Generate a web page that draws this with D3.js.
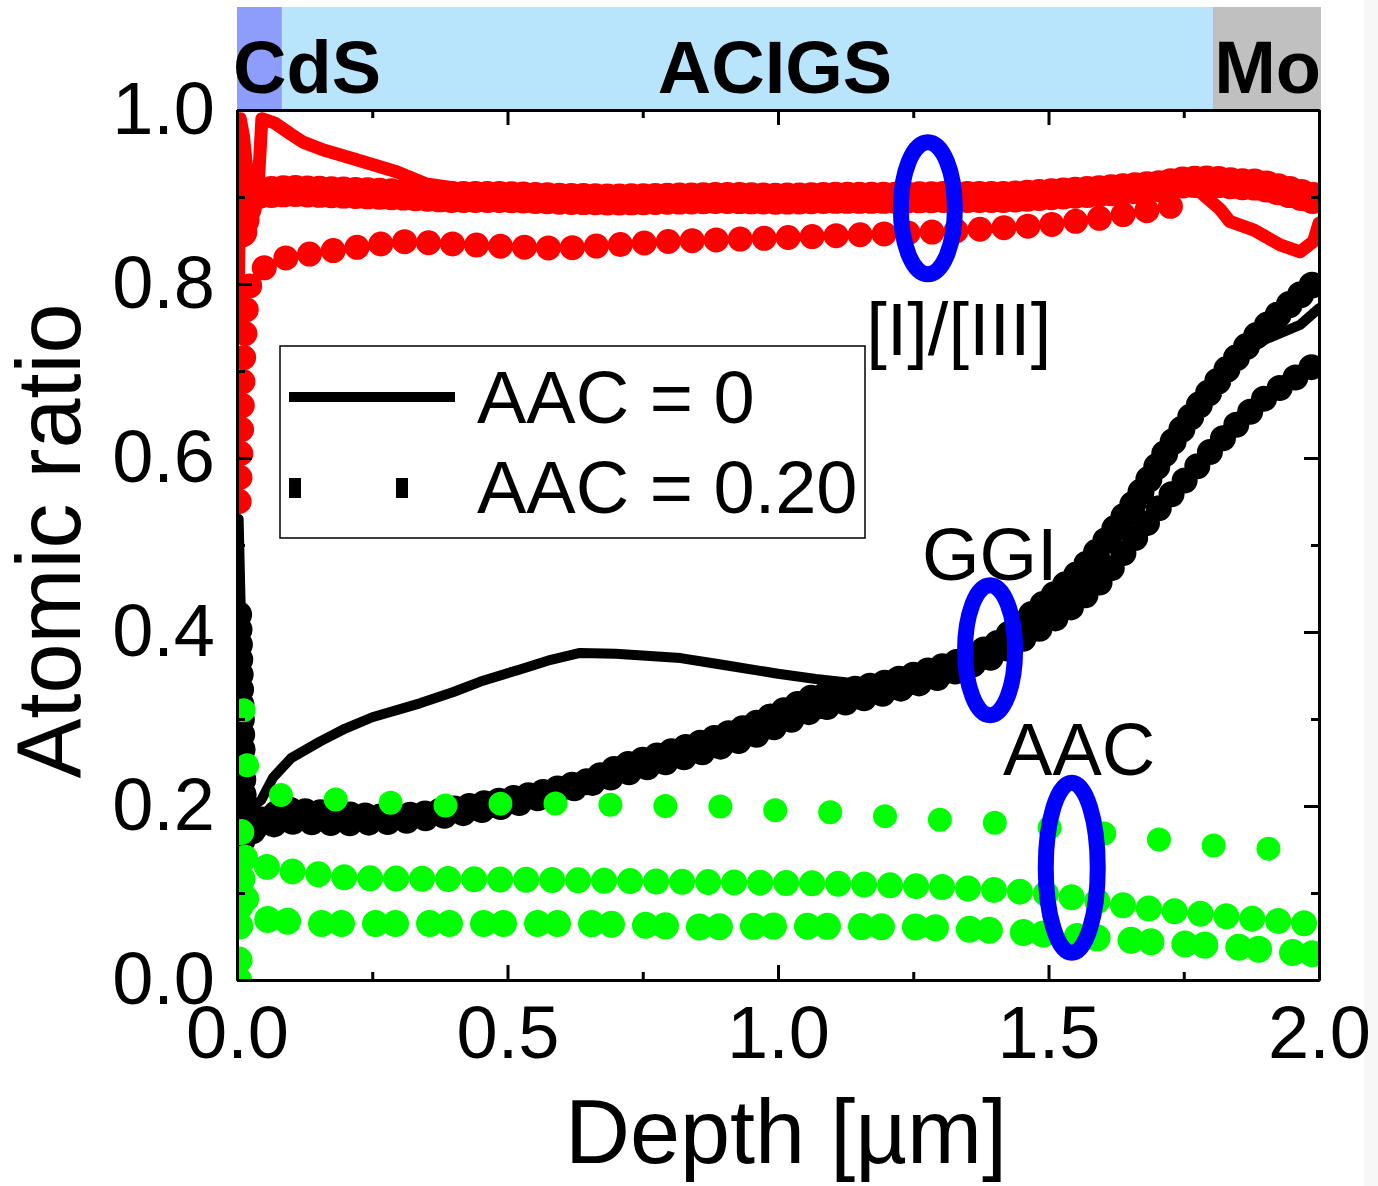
<!DOCTYPE html>
<html>
<head>
<meta charset="utf-8">
<script src="https://cdn.jsdelivr.net/npm/d3@7"></script>
<style>
	body { margin: 0; background: #fff; }
	svg { display: block; font-family: 'Liberation Sans', Arial, sans-serif; }
	.axis path, .axis line { stroke: #000; stroke-width: 3; }
	.axis text { font-size: 74px; fill: #000; font-family: 'Liberation Sans', Arial, sans-serif; }
</style>
</head>
<body>
<svg id="viz" width="1378" height="1186"></svg>
<script>

var layerNames = [ 'CdS', 'ACIGS', 'Mo' ];
var layerEdges = [ 0, 0.083, 1.804, 2.0 ];

var xMajorTicks = [ 0, 0.5, 1.0, 1.5, 2.0 ];
var xMinorTicks = [ 0.25, 0.75, 1.25, 1.75 ];
var yMajorTicks = [ 0, 0.2, 0.4, 0.6, 0.8, 1.0 ];
var yMinorTicks = [ 0.1, 0.3, 0.5, 0.7, 0.9 ];

var legendLabels = [ 'AAC = 0', 'AAC = 0.20' ];

// [I]/[III], depth in um
var ratioAac0 = [
	[ 0.002, 0.76 ], [ 0.006, 0.99 ], [ 0.012, 0.97 ], [ 0.02, 0.92 ], [ 0.03, 0.88 ], [ 0.038, 0.9 ],
	[ 0.046, 0.99 ], [ 0.07, 0.985 ], [ 0.1, 0.972 ], [ 0.122, 0.963 ], [ 0.16, 0.954 ], [ 0.215, 0.944 ],
	[ 0.295, 0.929 ], [ 0.35, 0.915 ], [ 0.45, 0.906 ], [ 0.6, 0.903 ], [ 0.8, 0.902 ], [ 1.0, 0.901 ],
	[ 1.2, 0.902 ], [ 1.4, 0.904 ], [ 1.55, 0.906 ], [ 1.7, 0.912 ], [ 1.78, 0.906 ], [ 1.817, 0.886 ],
	[ 1.835, 0.872 ], [ 1.88, 0.862 ], [ 1.928, 0.845 ], [ 1.965, 0.837 ], [ 1.99, 0.849 ], [ 2.0, 0.87 ]
];
var ratioAac20a = [
	[ 0.008, 0.86 ], [ 0.02, 0.9 ], [ 0.04, 0.905 ], [ 0.1, 0.907 ], [ 0.2, 0.905 ], [ 0.3, 0.903 ],
	[ 0.4, 0.9 ], [ 0.5, 0.9 ], [ 0.6, 0.898 ], [ 0.7, 0.897 ], [ 0.8, 0.898 ], [ 0.9, 0.899 ],
	[ 1.0, 0.898 ], [ 1.1, 0.899 ], [ 1.2, 0.899 ], [ 1.3, 0.9 ], [ 1.42, 0.9 ], [ 1.5, 0.903 ],
	[ 1.6, 0.907 ], [ 1.7, 0.912 ], [ 1.75, 0.917 ], [ 1.8, 0.918 ], [ 1.85, 0.915 ], [ 1.89, 0.914 ],
	[ 1.95, 0.905 ], [ 2.0, 0.897 ]
];
var ratioAac20b = [
	[ 0.004, 0.55 ], [ 0.008, 0.62 ], [ 0.012, 0.71 ], [ 0.017, 0.77 ], [ 0.024, 0.8 ], [ 0.04, 0.815 ],
	[ 0.08, 0.829 ], [ 0.15, 0.836 ], [ 0.22, 0.842 ], [ 0.3, 0.849 ], [ 0.4, 0.846 ], [ 0.5, 0.843 ],
	[ 0.6, 0.841 ], [ 0.7, 0.845 ], [ 0.8, 0.849 ], [ 0.9, 0.851 ], [ 1.0, 0.853 ], [ 1.17, 0.857 ],
	[ 1.3, 0.86 ], [ 1.4, 0.864 ], [ 1.5, 0.868 ], [ 1.6, 0.876 ], [ 1.67, 0.883 ], [ 1.75, 0.892 ]
];

// GGI
var ggiAac0 = [
	[ 0.003, 0.53 ], [ 0.006, 0.45 ], [ 0.01, 0.35 ], [ 0.014, 0.27 ], [ 0.02, 0.22 ], [ 0.03, 0.2 ],
	[ 0.045, 0.207 ], [ 0.067, 0.233 ], [ 0.1, 0.255 ], [ 0.153, 0.274 ], [ 0.2, 0.289 ], [ 0.25, 0.302 ],
	[ 0.338, 0.318 ], [ 0.4, 0.331 ], [ 0.45, 0.343 ], [ 0.523, 0.357 ], [ 0.58, 0.368 ], [ 0.634, 0.376 ],
	[ 0.7, 0.375 ], [ 0.82, 0.37 ], [ 0.9, 0.362 ], [ 1.0, 0.352 ], [ 1.07, 0.346 ], [ 1.128, 0.342 ],
	[ 1.18, 0.342 ], [ 1.25, 0.348 ], [ 1.3, 0.358 ], [ 1.35, 0.37 ], [ 1.41, 0.388 ], [ 1.46, 0.408 ],
	[ 1.5, 0.432 ], [ 1.55, 0.46 ], [ 1.595, 0.493 ], [ 1.65, 0.545 ], [ 1.72, 0.6 ], [ 1.78, 0.66 ],
	[ 1.84, 0.712 ], [ 1.9, 0.736 ], [ 1.965, 0.753 ], [ 2.0, 0.772 ]
];
var ggiAac20a = [
	[ 0.003, 0.42 ], [ 0.008, 0.3 ], [ 0.012, 0.2 ], [ 0.02, 0.168 ], [ 0.03, 0.172 ], [ 0.05, 0.186 ],
	[ 0.092, 0.195 ], [ 0.2, 0.19 ], [ 0.277, 0.187 ], [ 0.35, 0.191 ], [ 0.462, 0.203 ], [ 0.55, 0.213 ],
	[ 0.647, 0.228 ], [ 0.708, 0.245 ], [ 0.856, 0.272 ], [ 0.95, 0.292 ], [ 1.065, 0.325 ], [ 1.19, 0.34 ],
	[ 1.26, 0.352 ], [ 1.336, 0.366 ], [ 1.41, 0.388 ], [ 1.45, 0.41 ], [ 1.5, 0.437 ], [ 1.56, 0.47 ],
	[ 1.6, 0.5 ], [ 1.66, 0.55 ], [ 1.72, 0.61 ], [ 1.78, 0.662 ], [ 1.84, 0.71 ], [ 1.88, 0.738 ],
	[ 1.93, 0.768 ], [ 1.97, 0.79 ], [ 2.0, 0.805 ]
];
var ggiAac20b = [
	[ 0.01, 0.16 ], [ 0.03, 0.175 ], [ 0.1, 0.182 ], [ 0.2, 0.18 ], [ 0.3, 0.182 ], [ 0.4, 0.19 ],
	[ 0.5, 0.2 ], [ 0.6, 0.216 ], [ 0.708, 0.236 ], [ 0.856, 0.261 ], [ 0.95, 0.279 ], [ 1.065, 0.31 ],
	[ 1.2, 0.33 ], [ 1.3, 0.348 ], [ 1.4, 0.372 ], [ 1.5, 0.41 ], [ 1.55, 0.432 ], [ 1.6, 0.46 ],
	[ 1.65, 0.5 ], [ 1.71, 0.547 ], [ 1.756, 0.577 ], [ 1.8, 0.608 ], [ 1.84, 0.634 ], [ 1.9, 0.669 ],
	[ 1.95, 0.69 ], [ 2.0, 0.71 ]
];

// AAC
var aacTop = [
	[ 0.012, 0.31 ], [ 0.018, 0.25 ], [ 0.025, 0.22 ], [ 0.045, 0.215 ], [ 0.14, 0.209 ], [ 0.28, 0.204 ],
	[ 0.357, 0.2 ], [ 0.5, 0.203 ], [ 0.625, 0.203 ], [ 0.745, 0.2 ], [ 0.88, 0.2 ], [ 1.0, 0.195 ],
	[ 1.14, 0.192 ], [ 1.235, 0.186 ], [ 1.336, 0.183 ], [ 1.42, 0.18 ], [ 1.52, 0.174 ], [ 1.68, 0.163 ],
	[ 1.77, 0.157 ], [ 1.86, 0.151 ], [ 1.95, 0.151 ]
];
var aacMid = [
	[ 0.008, 0.17 ], [ 0.015, 0.14 ], [ 0.03, 0.13 ], [ 0.06, 0.13 ], [ 0.1, 0.125 ], [ 0.215, 0.117 ],
	[ 0.4, 0.116 ], [ 0.585, 0.115 ], [ 0.8, 0.113 ], [ 1.096, 0.111 ], [ 1.3, 0.107 ], [ 1.416, 0.103 ],
	[ 1.5, 0.099 ], [ 1.577, 0.092 ], [ 1.656, 0.084 ], [ 1.75, 0.078 ], [ 1.85, 0.072 ], [ 1.976, 0.065 ],
	[ 2.0, 0.064 ]
];
var aacLow = [
	[ 0.003, 0.0 ], [ 0.005, 0.06 ], [ 0.008, 0.12 ], [ 0.02, 0.08 ], [ 0.04, 0.072 ], [ 0.06, 0.069 ],
	[ 0.153, 0.065 ], [ 0.3, 0.065 ], [ 0.523, 0.065 ], [ 0.647, 0.065 ], [ 0.856, 0.061 ], [ 1.0, 0.062 ],
	[ 1.255, 0.061 ], [ 1.4, 0.057 ], [ 1.577, 0.049 ], [ 1.736, 0.042 ], [ 1.848, 0.038 ], [ 1.96, 0.031 ],
	[ 2.0, 0.03 ]
];

var margin = { top: 110, right: 59, bottom: 206, left: 237 };
var width = 1378 - margin.left - margin.right;
var height = 1186 - margin.top - margin.bottom;

var svg = d3.select( '#viz' );

var x = d3.scaleLinear().domain( [ 0, 2 ] ).range( [ 0, width ] );
var y = d3.scaleLinear().domain( [ 0, 1 ] ).range( [ height, 0 ] );

svg.append( 'rect' )
	.attr( 'x', 1364 ).attr( 'y', 0 ).attr( 'width', 14 ).attr( 'height', 1186 )
	.style( 'fill', '#f7f7f7' );

// layer band above the plot
var layerColors = [ '#8e9cfc', '#b8e4fc', '#c0c0c0' ];
var band = svg.append( 'g' )
	.attr( 'transform', 'translate(' + margin.left + ',0)' );

band.selectAll( 'rect.layer' )
	.data( layerNames )
	.enter()
	.append( 'rect' )
	.classed( 'layer', true )
	.attr( 'x', function ( d, i ) { return x( layerEdges[i] ); } )
	.attr( 'y', 7 )
	.attr( 'width', function ( d, i ) { return x( layerEdges[i + 1] ) - x( layerEdges[i] ) + ( i === 2 ? 2 : 0 ); } )
	.attr( 'height', margin.top - 7 )
	.style( 'fill', function ( d, i ) { return layerColors[i]; } );

band.selectAll( 'text.layer' )
	.data( layerNames )
	.enter()
	.append( 'text' )
	.classed( 'layer', true )
	.attr( 'x', function ( d, i ) {
		if ( i === 0 ) return x( layerEdges[0] ) - 4;
		if ( i === 1 ) return x( 1.0 ) - 3;
		return x( layerEdges[3] ) + 2;
	} )
	.attr( 'y', 93 )
	.attr( 'text-anchor', function ( d, i ) { return [ 'start', 'middle', 'end' ][i]; } )
	.style( 'font-size', '74px' )
	.style( 'font-weight', 'bold' )
	.text( function ( d ) { return d; } );

var plot = svg.append( 'g' )
	.attr( 'transform', 'translate(' + margin.left + ',' + margin.top + ')' );

svg.append( 'defs' ).append( 'clipPath' )
	.attr( 'id', 'plot-clip' )
	.append( 'rect' )
	.attr( 'width', width )
	.attr( 'height', height );

var series = [
	{ data: ratioAac20a, color: '#ff0000', width: 32, dash: '0,12' },
	{ data: ratioAac20b, color: '#ff0000', width: 25, dash: '0,24' },
	{ data: ratioAac0, color: '#ff0000', width: 13, dash: null },
	{ data: ggiAac20a, color: '#000000', width: 27, dash: '0,15' },
	{ data: ggiAac20b, color: '#000000', width: 26, dash: '0,19' },
	{ data: ggiAac0, color: '#000000', width: 10, dash: null },
	{ data: aacTop, color: '#00ff00', width: 24, dash: '0,55' },
	{ data: aacMid, color: '#00ff00', width: 26, dash: '0,26' },
	{ data: aacLow, color: '#00ff00', width: 27, dash: '0,20,0,34' }
];

var line = d3.line()
	.x( function ( d ) { return x( d[0] ); } )
	.y( function ( d ) { return y( d[1] ); } );

var lines = plot.append( 'g' )
	.attr( 'clip-path', 'url(#plot-clip)' );

lines.selectAll( 'path.series' )
	.data( series )
	.enter()
	.append( 'path' )
	.classed( 'series', true )
	.attr( 'd', function ( d ) { return line( d.data ); } )
	.style( 'fill', 'none' )
	.style( 'stroke', function ( d ) { return d.color; } )
	.style( 'stroke-width', function ( d ) { return d.width; } )
	.style( 'stroke-linecap', 'round' )
	.style( 'stroke-linejoin', 'round' )
	.style( 'stroke-dasharray', function ( d ) { return d.dash; } );

// blue markers around the three quantities
var rings = [ [ 1.277, 0.887, 27, 66 ], [ 1.392, 0.379, 25, 65 ], [ 1.543, 0.129, 26, 85 ] ];
plot.selectAll( 'ellipse' )
	.data( rings )
	.enter()
	.append( 'ellipse' )
	.attr( 'cx', function ( d ) { return x( d[0] ); } )
	.attr( 'cy', function ( d ) { return y( d[1] ); } )
	.attr( 'rx', function ( d ) { return d[2]; } )
	.attr( 'ry', function ( d ) { return d[3]; } )
	.style( 'fill', 'none' )
	.style( 'stroke', '#0000ff' )
	.style( 'stroke-width', 16 );

var notes = [ [ '[I]/[III]', 1.163, 0.718 ], [ 'GGI', 1.266, 0.46 ], [ 'AAC', 1.416, 0.236 ] ];
plot.selectAll( 'text.note' )
	.data( notes )
	.enter()
	.append( 'text' )
	.classed( 'note', true )
	.attr( 'x', function ( d ) { return x( d[1] ); } )
	.attr( 'y', function ( d ) { return y( d[2] ); } )
	.style( 'font-size', '74px' )
	.text( function ( d ) { return d[0]; } );

// axes, ticks inward on all four sides
var fmt = d3.format( '.1f' );

plot.append( 'g' ).classed( 'axis', true )
	.attr( 'transform', 'translate(0,' + height + ')' )
	.call( d3.axisBottom( x ).tickValues( xMajorTicks ).tickSize( -15 ).tickSizeOuter( 0 ).tickPadding( 25 ).tickFormat( fmt ) );
plot.append( 'g' ).classed( 'axis', true )
	.attr( 'transform', 'translate(0,' + height + ')' )
	.call( d3.axisBottom( x ).tickValues( xMinorTicks ).tickSize( -8 ).tickSizeOuter( 0 ).tickFormat( '' ) );
plot.append( 'g' ).classed( 'axis', true )
	.call( d3.axisTop( x ).tickValues( xMajorTicks ).tickSize( -15 ).tickSizeOuter( 0 ).tickFormat( '' ) );
plot.append( 'g' ).classed( 'axis', true )
	.call( d3.axisTop( x ).tickValues( xMinorTicks ).tickSize( -8 ).tickSizeOuter( 0 ).tickFormat( '' ) );

plot.append( 'g' ).classed( 'axis', true )
	.call( d3.axisLeft( y ).tickValues( yMajorTicks ).tickSize( -15 ).tickSizeOuter( 0 ).tickPadding( 22 ).tickFormat( fmt ) );
plot.append( 'g' ).classed( 'axis', true )
	.call( d3.axisLeft( y ).tickValues( yMinorTicks ).tickSize( -8 ).tickSizeOuter( 0 ).tickFormat( '' ) );
plot.append( 'g' ).classed( 'axis', true )
	.attr( 'transform', 'translate(' + width + ',0)' )
	.call( d3.axisRight( y ).tickValues( yMajorTicks ).tickSize( -15 ).tickSizeOuter( 0 ).tickFormat( '' ) );
plot.append( 'g' ).classed( 'axis', true )
	.attr( 'transform', 'translate(' + width + ',0)' )
	.call( d3.axisRight( y ).tickValues( yMinorTicks ).tickSize( -8 ).tickSizeOuter( 0 ).tickFormat( '' ) );

svg.append( 'text' )
	.attr( 'x', margin.left + width / 2 + 8 )
	.attr( 'y', 1163 )
	.attr( 'text-anchor', 'middle' )
	.style( 'font-size', '90px' )
	.text( 'Depth [µm]' );

svg.append( 'text' )
	.attr( 'transform', 'translate(80,' + ( margin.top + height / 2 - 4 ) + ') rotate(-90)' )
	.attr( 'text-anchor', 'middle' )
	.style( 'font-size', '90px' )
	.text( 'Atomic ratio' );

// legend
var legend = svg.append( 'g' );
legend.append( 'rect' )
	.attr( 'x', 280 ).attr( 'y', 346 ).attr( 'width', 585 ).attr( 'height', 192 )
	.style( 'fill', '#fff' ).style( 'stroke', '#000' ).style( 'stroke-width', 1.5 );
legend.append( 'line' )
	.attr( 'x1', 289 ).attr( 'x2', 455 ).attr( 'y1', 397 ).attr( 'y2', 397 )
	.style( 'stroke', '#000' ).style( 'stroke-width', 10 );
legend.selectAll( 'rect.mark' )
	.data( [ 289, 396 ] )
	.enter()
	.append( 'rect' )
	.classed( 'mark', true )
	.attr( 'x', function ( d ) { return d; } )
	.attr( 'y', 478 ).attr( 'width', 12 ).attr( 'height', 20 )
	.style( 'fill', '#000' );
legend.selectAll( 'text' )
	.data( legendLabels )
	.enter()
	.append( 'text' )
	.attr( 'x', 477 )
	.attr( 'y', function ( d, i ) { return 423 + i * 90; } )
	.style( 'font-size', '74px' )
	.text( function ( d ) { return d; } );

</script>
</body>
</html>
